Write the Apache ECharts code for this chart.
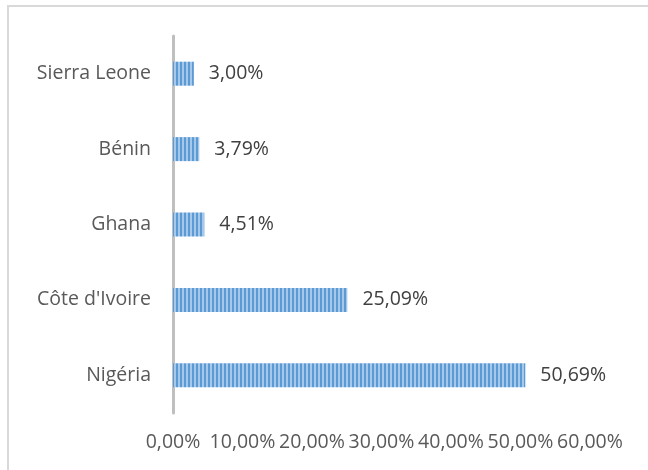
<!DOCTYPE html>
<html>
<head>
<meta charset="utf-8">
<script src="https://cdn.jsdelivr.net/npm/echarts@6/dist/echarts.min.js"></script>
<style>
  html, body { margin: 0; padding: 0; background: #fff; }
  #chart { width: 648px; height: 470px; }
</style>
</head>
<body>
<div id="chart"></div>
<script>
const countries = ['Nigéria', "Côte d'Ivoire", 'Ghana', 'Bénin', 'Sierra Leone'];
const shares = [50.69, 25.09, 4.51, 3.79, 3.00];
const axisTicks = [0, 10, 20, 30, 40, 50, 60];

const fmt = v => v.toFixed(2).replace('.', ',') + '%';

// vertical stripe fill, like the source chart
const stripe = document.createElement('canvas');
stripe.width = 4;
stripe.height = 24;
const ctx = stripe.getContext('2d');
ctx.fillStyle = '#a8c8ea';
ctx.fillRect(0, 0, 4, 24);
ctx.fillStyle = '#5b9bd5';
ctx.fillRect(0, 0, 2, 24);

const chart = echarts.init(document.getElementById('chart'));

chart.setOption({
  animation: false,
  backgroundColor: '#fff',
  textStyle: { fontFamily: 'Open Sans' },
  graphic: [{
    type: 'rect',
    shape: { x: 8, y: 6, width: 700, height: 500 },
    style: { fill: 'none', stroke: '#d9d9d9', lineWidth: 2 },
    silent: true
  }],
  grid: { left: 173, right: 58, top: 36, bottom: 57 },
  xAxis: {
    type: 'value',
    min: axisTicks[0],
    max: axisTicks[axisTicks.length - 1],
    interval: 10,
    axisLine: { show: false },
    axisTick: { show: false },
    splitLine: { show: false },
    axisLabel: {
      color: '#595959',
      fontSize: 19.5,
      margin: 19,
      formatter: fmt
    }
  },
  yAxis: {
    type: 'category',
    data: countries,
    axisLine: { show: true, lineStyle: { color: '#bfbfbf', width: 3 } },
    axisTick: { show: false },
    axisLabel: { color: '#595959', fontSize: 19.5, margin: 22 }
  },
  series: [{
    type: 'bar',
    data: shares,
    barWidth: 24,
    itemStyle: { color: { image: stripe, repeat: 'repeat' } },
    label: {
      show: true,
      position: 'right',
      distance: 15,
      color: '#404040',
      fontSize: 19.5,
      formatter: p => fmt(p.value)
    }
  }]
});
</script>
</body>
</html>
